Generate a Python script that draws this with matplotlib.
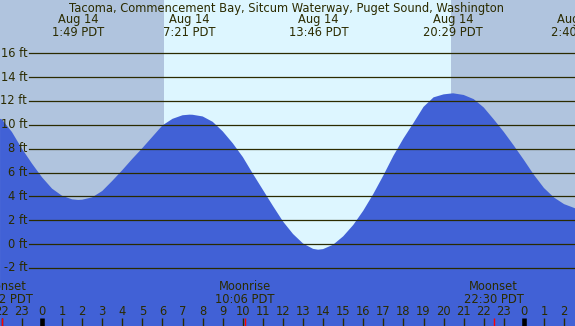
import matplotlib
matplotlib.use("Agg")
import matplotlib.pyplot as plt

# ---- data (hours from midnight Aug 14, tide height in ft) ----
tide_hours = [-2.09, -2.0, -1.5, -1.0, -0.5, 0.0, 0.5, 1.0, 1.5, 1.8, 2.0, 2.5,
              3.0, 3.5, 4.0, 4.5, 5.0, 5.5, 6.0, 6.5, 7.0, 7.35, 7.5, 8.0, 8.5,
              9.0, 9.5, 10.0, 10.5, 11.0, 11.5, 12.0, 12.5, 13.0, 13.5, 13.75,
              14.0, 14.5, 15.0, 15.5, 16.0, 16.5, 17.0, 17.5, 18.0, 18.5, 19.0,
              19.5, 20.0, 20.47, 21.0, 21.5, 22.0, 22.5, 23.0, 23.5, 24.0,
              24.5, 25.0, 25.5, 26.0, 26.55]
tide_heights = [10.5, 10.45, 9.4, 8.0, 6.75, 5.6, 4.65, 4.05, 3.75, 3.7, 3.72, 3.92,
                4.45, 5.3, 6.2, 7.15, 8.05, 9.0, 9.95, 10.5, 10.8, 10.85, 10.84, 10.7, 10.25,
                9.45, 8.45, 7.3, 5.9, 4.55, 3.2, 1.9, 0.85, 0.05, -0.4, -0.47,
                -0.42, -0.05, 0.65, 1.6, 2.8, 4.2, 5.75, 7.4, 8.85, 10.15, 11.5,
                12.3, 12.55, 12.64, 12.5, 12.15, 11.45, 10.45, 9.4, 8.25, 7.05,
                5.8, 4.7, 3.9, 3.35, 3.0]

extreme_hours = [1.82, 7.35, 13.77, 20.48, 26.67]
extreme_labels = ["Aug 14\n1:49 PDT", "Aug 14\n7:21 PDT", "Aug 14\n13:46 PDT",
                  "Aug 14\n20:29 PDT", "Aug 14\n2:40 PDT"]

sunrise_hour = 6.08
sunset_hour = 20.37

moon_hours = [-1.97, 10.10, 22.50]
moon_labels = ["Moonset\n22:02 PDT", "Moonrise\n10:06 PDT", "Moonset\n22:30 PDT"]

hour_ticks = list(range(-2, 27))
hour_labels = [str(h % 24) for h in hour_ticks]

grid_levels = [16, 14, 12, 10, 8, 6, 4, 2, 0, -2]
grid_labels = [f"{v} ft" for v in grid_levels]

title = "Tacoma, Commencement Bay, Sitcum Waterway, Puget Sound, Washington"

# ---- style ----
DAY = "#ddf6ff"
NIGHT = "#b0c4de"
WATER = "#4161d6"
INK = "#2b2b00"
FS = 8.3

fig = plt.figure(figsize=(5.75, 3.26), dpi=100)
ax = fig.add_axes([0, 0, 1, 1])
x0, x1 = -2.092, 26.544
y0, y1 = -6.865, 20.46
ax.set_xlim(x0, x1)
ax.set_ylim(y0, y1)
ax.axis("off")

ax.axvspan(x0, x1, color=DAY, zorder=0)
ax.axvspan(x0, sunrise_hour, color=NIGHT, zorder=0.5, lw=0)
ax.axvspan(sunset_hour, x1, color=NIGHT, zorder=0.5, lw=0)

ax.fill_between(tide_hours, tide_heights, y0, color=WATER, lw=0, zorder=1)

for v, lab in zip(grid_levels, grid_labels):
    ax.axhline(v, xmin=29 / 575, xmax=1, color=INK, lw=0.9, zorder=2)
    ax.text(-0.74, v, lab, ha="right", va="center", fontsize=FS, color=INK, zorder=3)

ax.text(12.2, 20.46 - 8 / 11.93, title, ha="center", va="center", fontsize=FS,
        color=INK, zorder=3)
for h, lab in zip(extreme_hours, extreme_labels):
    ax.text(h, 20.46 - 25.5 / 11.93, lab, ha="center", va="center", fontsize=FS,
            color=INK, linespacing=1.0, zorder=3)

for h, lab in zip(moon_hours, moon_labels):
    ax.text(h, -6.865 + 33 / 11.93, lab, ha="center", va="center", fontsize=FS,
            color=INK, linespacing=1.0, zorder=3)

tick_top = -6.865 + 8 / 11.93
for h, lab in zip(hour_ticks, hour_labels):
    lw = 3.3 if h % 24 == 0 else 1.0
    ax.plot([h, h], [y0, tick_top], color="black" if h % 24 == 0 else INK,
            lw=lw, solid_capstyle="butt", zorder=3)
    ax.text(h, -6.865 + 14.5 / 11.93, lab, ha="center", va="center", fontsize=FS,
            color=INK, zorder=3)

for h in moon_hours:
    ax.plot([h, h], [y0, tick_top], color="red", lw=1.0,
            solid_capstyle="butt", zorder=4)

fig.savefig("out.png", dpi=100)
